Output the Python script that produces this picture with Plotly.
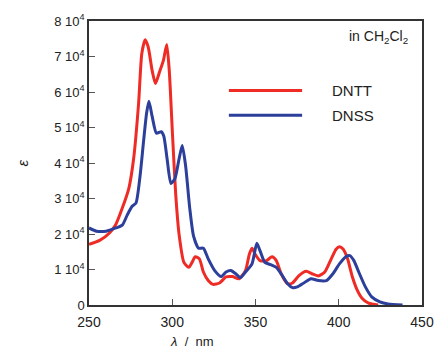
import plotly.graph_objects as go

# DNTT (red)
dntt_wl = [250, 256.4, 262.3, 266.1, 270, 273.9, 276.8, 279.8, 281.7, 283.7, 285.6, 287.9, 289.9,
           292.4, 294.7, 296.7, 298.2, 300.2, 302.1, 304.1, 307, 309.9, 311.9, 313.8, 316.3, 318.7,
           321.6, 324.5, 328.4, 332.3, 336.2, 340.1, 344, 346.3, 347.9, 349.8, 352.7, 356.6, 359.9,
           362.5, 365.4, 369.3, 372.2, 376.1, 380.5, 383.9, 387.7, 391.6, 395.5, 398.4, 400.4, 402.7,
           405.3, 408.2, 411.1, 414, 417.9, 423.7]
dntt_eps = [17.1, 18.2, 20.3, 22.7, 27.3, 32.8, 41.2, 56.9, 70.8, 74.7, 72.6, 66.1, 62.4,
            65.7, 68.9, 73.4, 66.1, 47.6, 31, 19.9, 12, 10.6, 12, 13.6, 13, 9.3,
            6.9, 5.8, 6.2, 7.9, 8, 7.4, 9.7, 14.3, 16, 14.3, 12.5, 12.5, 13.6,
            12.5, 8.8, 6, 6.2, 8.3, 9.5, 8.8, 8.2, 9.3, 13, 15.7, 16.4, 15.7,
            13, 7.9, 4.2, 1.9, 0.5, 0]

# DNSS (blue)
dnss_wl = [250, 254.5, 260.3, 266.1, 270, 273, 275.9, 278.2, 280.7, 282.7, 284.6, 286, 287.9,
           290.5, 293.4, 294.9, 296.9, 299.2, 301.6, 304.1, 306, 308, 310.5, 312.8, 315.8, 318.7,
           321.6, 325.5, 329.4, 332.3, 335.2, 338.1, 341, 344, 347.9, 350.8, 352.7, 355.6, 359.5,
           362.5, 365.4, 369.3, 372.2, 375.1, 379, 383.3, 387.7, 392.6, 396.5, 400.4, 404.3, 406.6,
           409.1, 412, 416, 419.8, 424.7, 429.6, 438.3]
dnss_eps = [21.7, 20.8, 20.8, 21.7, 22.5, 25.4, 27.8, 28.7, 36.5, 45.8, 54.1, 57.4, 53.2,
            48.4, 48.8, 47.6, 41.2, 34.2, 35.6, 41.2, 44.9, 39.3, 27.3, 19.4, 16, 16,
            13, 9.7, 8, 9.3, 9.7, 8.8, 7.7, 9.3, 11.6, 17.4, 15.3, 12, 11.3,
            10.6, 8.8, 6, 4.9, 5.1, 6.2, 7.4, 6.9, 6.9, 8.8, 11.6, 13.6, 13.9,
            12.5, 9.3, 5.1, 2.3, 0.9, 0.3, 0]

y_tickvals = [0, 10000, 20000, 30000, 40000, 50000, 60000, 70000, 80000]
y_ticktext = ["0"] + [f"{i} 10<sup>4</sup>" for i in range(1, 9)]
x_tickvals = [250, 300, 350, 400, 450]

RED = "#ee2b25"
BLUE = "#2b3f9b"

fig = go.Figure()
fig.add_trace(go.Scatter(x=dntt_wl, y=[v * 1000 for v in dntt_eps], mode="lines",
                         line=dict(color=RED, width=3, shape="spline", smoothing=0.6),
                         name="DNTT", showlegend=False))
fig.add_trace(go.Scatter(x=dnss_wl, y=[v * 1000 for v in dnss_eps], mode="lines",
                         line=dict(color=BLUE, width=3, shape="spline", smoothing=0.6),
                         name="DNSS", showlegend=False))

font = "Liberation Sans, Arial, sans-serif"
fig.update_layout(
    width=446, height=350,
    margin=dict(l=89, r=14, t=17, b=45),
    paper_bgcolor="white", plot_bgcolor="white",
    font=dict(family=font, size=12, color="#222"),
    xaxis=dict(range=[250, 450], tickvals=x_tickvals, ticks="inside", ticklen=6,
               tickcolor="#555", showline=True, linecolor="#333", linewidth=1.5, mirror=True,
               showgrid=False, zeroline=False, ticklabelstandoff=3,
               tickfont=dict(size=14, color="#222")),
    yaxis=dict(range=[0, 80000], tickvals=y_tickvals, ticktext=y_ticktext, ticks="inside",
               ticklen=6, tickcolor="#555", showline=True, linecolor="#333", linewidth=1.5,
               mirror=True, showgrid=False, zeroline=False, tickfont=dict(size=13, color="#222")),
)

# legend drawn as line samples + labels
for yy, col, lab in [(0.755, RED, "DNTT"), (0.668, BLUE, "DNSS")]:
    fig.add_shape(type="line", xref="paper", yref="paper", x0=0.42, x1=0.64, y0=yy, y1=yy,
                  line=dict(color=col, width=3))
    fig.add_annotation(xref="paper", yref="paper", x=0.725, y=yy, text=lab, showarrow=False,
                       xanchor="left", yanchor="middle", font=dict(size=15, color="#222"))

fig.add_annotation(xref="paper", yref="paper", x=0.965, y=0.945, text="in CH<sub>2</sub>Cl<sub>2</sub>",
                   showarrow=False, xanchor="right", yanchor="middle", font=dict(size=14, color="#222"))
fig.add_annotation(xref="paper", yref="paper", x=0.31, y=-0.13, text="<i>λ</i>  /  nm",
                   showarrow=False, xanchor="center", yanchor="middle", font=dict(size=13, color="#222"))
fig.add_annotation(xref="paper", yref="paper", x=-0.2, y=0.5, text="<i>ε</i>", textangle=-90,
                   showarrow=False, xanchor="center", yanchor="middle", font=dict(size=15, color="#222"))

fig.write_html("out.html", config={"displayModeBar": False},
               post_script="document.body.style.margin='0';")
